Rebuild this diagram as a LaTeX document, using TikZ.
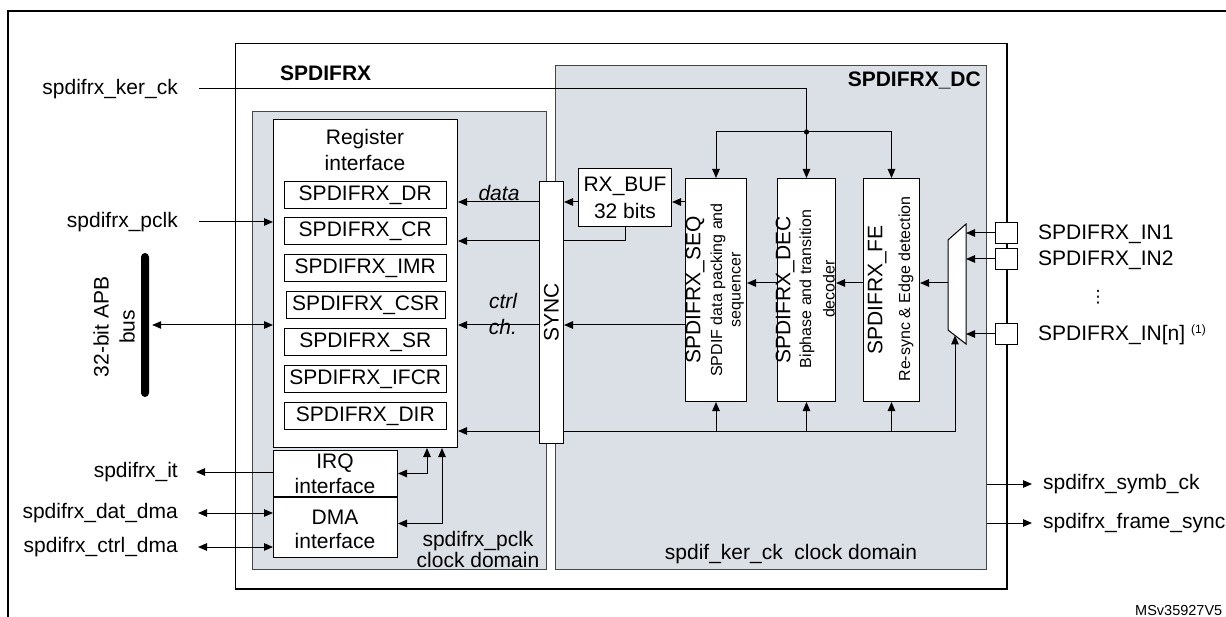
\documentclass[tikz,border=0pt]{standalone}
\usepackage{fontspec}
\setmainfont{Liberation Sans}
\newfontfamily\djv{DejaVu Sans}
\usetikzlibrary{arrows.meta,calc}
\definecolor{domfill}{RGB}{219,223,230}
\definecolor{domline}{RGB}{70,70,70}
\begin{document}
\begin{tikzpicture}[x=1pt, y=-1pt,
  every node/.style={font=\fontsize{21}{25}\selectfont},
  box/.style={draw=black, fill=white, line width=1pt, inner sep=0pt, anchor=north west},
  dom/.style={draw=domline, fill=domfill, line width=1.3pt, inner sep=0pt, anchor=north west},
  txt/.style={inner sep=0pt},
  subt/.style={inner sep=0pt, rotate=90, font=\fontsize{16}{19}\selectfont},
  rott/.style={inner sep=0pt, rotate=90},
  conn/.style={line width=1pt},
  >={Triangle[length=9pt,width=7.5pt]},
  arr/.style={conn, ->},
  darr/.style={conn, <->},
]
\useasboundingbox (0,0) rectangle (1226,617);
% outer frame
\draw[line width=2.2pt] (8,620) -- (8,11) -- (1230,11);

% SPDIFRX block
\node[box, line width=1.5pt, minimum width=771.5pt, minimum height=545pt] (spdifrx) at (234.5,43) {};
\node[txt, font=\bfseries\fontsize{21}{25}\selectfont, anchor=west] (tspd) at (280,73) {SPDIFRX};

% clock domains
\node[dom, minimum width=294pt, minimum height=458pt] (lDom) at (252,111) {};
\node[dom, minimum width=431pt, minimum height=504pt] (rDom) at (555,65) {};
\node[txt, font=\bfseries\fontsize{21}{25}\selectfont, anchor=east] (tdc) at (981,80) {SPDIFRX\_DC};

% register interface
\node[box, minimum width=184pt, minimum height=328pt] (reg) at (273,119) {};
\node[txt, align=center, font=\fontsize{21}{26}\selectfont] (treg) at (365,150) {Register\\interface};
\foreach \n/\y/\x/\w in {DR/181/283.5/162.5, CR/217/283.5/162.5, IMR/254/283.5/162.5, CSR/291/285.5/159.5, SR/328/283.5/162.5, IFCR/365/283.5/162.5, DIR/402/283.5/162.5}{
  \node[box, minimum width=\w pt, minimum height=27pt] (r\n) at (\x,\y) {};
  \node[txt] at (r\n.center) {SPDIFRX\_\n};
}

% IRQ / DMA
\node[box, minimum width=124pt, minimum height=46pt] (irq) at (273,450) {};
\node[txt, align=center, font=\fontsize{21}{25}\selectfont] (tirq) at (335,473.5) {IRQ\\interface};
\node[box, minimum width=124pt, minimum height=60pt] (dma) at (273,497) {};
\node[txt, align=center, font=\fontsize{21}{24}\selectfont] (tdma) at (335,529) {DMA\\interface};

% SYNC
\node[box, minimum width=24pt, minimum height=262pt] (sync) at (539,181) {};
\node[rott] (tsync) at (sync.center) {SYNC};

% RX_BUF
\node[box, minimum width=93pt, minimum height=58pt] (rxbuf) at (578,168) {};
\node[txt, align=center, font=\fontsize{21}{27}\selectfont] (trx) at (rxbuf.center) {RX\_BUF\\32 bits};

% SEQ / DEC / FE
\node[box, minimum width=61pt, minimum height=223pt] (seq) at (685,178) {};
\node[box, minimum width=58pt, minimum height=223pt] (dec) at (777,178) {};
\node[box, minimum width=56pt, minimum height=223pt] (fe) at (863,178) {};
\node[rott] (tseq) at (695,290) {SPDIFRX\_SEQ};
\node[subt] (tseq1) at (718,290) {SPDIF data packing and};
\node[subt] (tseq2) at (738,290) {sequencer};
\node[rott] (tdec) at (785,290) {SPDIFRX\_DEC};
\node[subt] (tdec1) at (807,289) {Biphase and transition};
\node[subt] (tdec2) at (829,289) {decoder};
\node[rott] (tfe) at (877,290) {SPDIFRX\_FE};
\node[subt] (tfe1) at (906,289) {Re-sync \& Edge detection};

% mux
\draw[line width=1pt, fill=white] (948,240) -- (966,224) -- (966,344) -- (948,330) -- cycle;
\coordinate (muxL) at (948,283);
\coordinate (muxR) at (966,0);
\coordinate (muxSel) at (955,335.5);

% input pins
\node[box, minimum width=22pt, minimum height=21pt] (in1) at (995,222) {};
\node[box, minimum width=22pt, minimum height=21pt] (in2) at (995,248) {};
\node[box, minimum width=22pt, minimum height=21pt] (inn) at (995,323) {};
\node[txt, anchor=base west] (lin1) at (1038,240) {SPDIFRX\_IN1};
\node[txt, anchor=base west] (lin2) at (1038,266) {SPDIFRX\_IN2};
\node[txt, font=\djv\fontsize{17}{17}\selectfont] (vd) at (1098,297) {⋮};
\node[txt, anchor=base west] (linn) at (1038,341) {SPDIFRX\_IN[n] \raisebox{7pt}{\fontsize{12}{12}\selectfont(1)}};

% APB bus
\node[fill=black, rounded corners=4pt, minimum width=8pt, minimum height=144pt, inner sep=0pt] (apb) at (145,325) {};
\node[rott] (tapb1) at (101,327) {32-bit APB};
\node[rott] (tapb2) at (127,327) {bus};

% left labels
\node[txt, anchor=east] (lker) at (178,89) {spdifrx\_ker\_ck};
\node[txt, anchor=east] (lpclk) at (178,222) {spdifrx\_pclk};
\node[txt, anchor=east] (lit) at (178,472) {spdifrx\_it};
\node[txt, anchor=east] (ldat) at (178,513) {spdifrx\_dat\_dma};
\node[txt, anchor=east] (lctl) at (178,547) {spdifrx\_ctrl\_dma};

% right labels
\node[txt, anchor=west] (lsymb) at (1043,484) {spdifrx\_symb\_ck};
\node[txt, anchor=west] (lfs) at (1043,523) {spdifrx\_frame\_sync};

% domain texts
\node[txt, align=center, font=\fontsize{21}{21}\selectfont] (tpd) at (478,549.5) {spdifrx\_pclk\\clock domain};
\node[txt] (tkd) at (791,554) {spdif\_ker\_ck\ \ clock domain};
\node[txt, font=\fontsize{14.5}{14.5}\selectfont, anchor=west] (msv) at (1135,611) {MSv35927V5};

% rows
\coordinate (rD) at (0,202);
\coordinate (rB) at (0,241);
\coordinate (rC) at (0,325);
\coordinate (rL) at (0,431);

% kernel clock
\path (dec.north) ++(0,-46) coordinate (j);
\draw[conn] ([xshift=21pt]lker.east) -| (j);
\draw[arr] (j) -- (dec.north);
\draw[arr] (j) -| (seq.north);
\draw[arr] (j) -| (fe.north);
\fill (j) circle (2.6pt);

% left side connections
\draw[arr] ([xshift=21pt]lpclk.east) -- (lpclk.east -| reg.west);
\draw[darr] ([xshift=3pt]apb.east) -- (apb.east -| reg.west);
\draw[arr] (irq.west |- lit.east) -- ([xshift=18pt]lit.east);
\draw[darr] ([xshift=20pt]ldat.east) -- (ldat.east -| dma.west);
\draw[darr] ([xshift=20pt]lctl.east) -- (lctl.east -| dma.west);
\draw[darr] (irq.east) -| ([xshift=-31pt]reg.south east);
\draw[darr] ([yshift=4pt]dma.east) -| ([xshift=-16pt]reg.south east);

% data paths
\draw[arr] (sync.west |- rD) -- (reg.east |- rD);
\draw[arr] (rxbuf.west |- rD) -- (sync.east |- rD);
\draw[arr] (seq.west |- rD) -- (rxbuf.east |- rD);
\draw[conn] (rxbuf.south) |- (sync.east |- rB);
\draw[arr] (sync.west |- rB) -- (reg.east |- rB);
\draw[arr] (seq.west |- rC) -- (sync.east |- rC);
\draw[arr] (sync.west |- rC) -- (reg.east |- rC);
\draw[arr] (dec.west |- muxL) -- (seq.east |- muxL);
\draw[arr] (fe.west |- muxL) -- (dec.east |- muxL);
\draw[arr] (muxL) -- (fe.east |- muxL);
\draw[arr] (sync.east |- rL) -| (muxSel);
\draw[arr] (sync.west |- rL) -- (reg.east |- rL);
\foreach \b in {seq,dec,fe}{\draw[arr] (\b.south |- rL) -- (\b.south);}
\foreach \p in {in1,in2,inn}{\draw[arr] (\p.west) -- (\p.west -| muxR);}

% outputs
\draw[arr] (rDom.east |- lsymb.west) -- ([xshift=-11pt]lsymb.west);
\draw[arr] (rDom.east |- lfs.west) -- ([xshift=-11pt]lfs.west);

% italic labels
\node[txt, font=\itshape\fontsize{21}{25}\selectfont] (tdata) at (499,193) {data};
\node[txt, font=\itshape\fontsize{21}{25}\selectfont] (tctrl) at (503,301) {ctrl};
\node[txt, font=\itshape\fontsize{21}{25}\selectfont] (tch) at (503,327) {ch.};
\end{tikzpicture}
\end{document}
